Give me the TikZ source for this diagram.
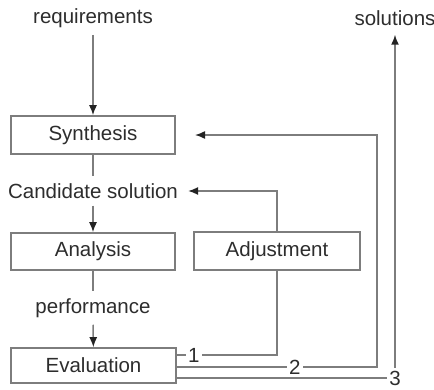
\documentclass[tikz,border=0pt]{standalone}
\usepackage{fontspec}
\setmainfont{Liberation Sans}
\usetikzlibrary{arrows.meta}
\definecolor{ln}{RGB}{125,125,125}
\definecolor{tip}{RGB}{35,35,35}
\definecolor{txt}{RGB}{45,45,45}
\begin{document}
\begin{tikzpicture}[x=1pt,y=-1pt,
  font=\fontsize{20.5}{24}\selectfont, text=txt,
  box/.style={draw=ln, line width=1.6pt, minimum width=164pt, minimum height=38pt, inner sep=0pt},
  lbl/.style={inner xsep=4pt, inner ysep=7pt},
  wire/.style={draw=ln, line width=1.5pt},
  arr/.style={wire, -{Latex[length=10pt,width=8pt,color=tip]}},
  num/.style={fill=white, inner sep=2.5pt}]
\useasboundingbox (0,0) rectangle (434,389);

% blocks and free labels
\node[lbl] (req) at (93,18) {requirements};
\node[box] (syn) at (93,135) {Synthesis};
\node[lbl, inner xsep=10pt] (cand) at (93,191) {Candidate solution};
\node[box, minimum height=37pt] (ana) at (93,251.5) {Analysis};
\node[box, minimum width=166pt] (adj) at (277,251) {Adjustment};
\node[lbl] (perf) at (93,308) {performance};
\node[box, minimum width=165pt, minimum height=35pt] (eva) at (93.5,365.5) {Evaluation};
\node[lbl, inner ysep=9pt] (sol) at (395,18) {solutions};
\coordinate (synin) at (195,135);

% main chain
\draw[arr] (req) -- (syn);
\draw[wire] (syn) -- (cand);
\draw[arr] (cand) -- (ana);
\draw[wire] (ana) -- (perf);
\draw[arr] (perf) -- (eva);

% loop 1: through the adjustment block back to the candidate solution
\draw[wire] (eva.east |- 0,355) -- node[num, pos=0.17] {1} (adj.south |- 0,355) -- (adj.south);
\draw[arr] (adj.north) -- (adj.north |- cand.east) -- (cand.east);

% loop 2: back to synthesis
\draw[arr] (eva.east |- 0,367) -- node[num, pos=0.59] {2} (377,367) -- (377,135) -- (synin);

% loop 3: out to the solutions
\draw[arr] (eva.east |- 0,378) -- (395,378) node[num] {3} -- (sol.south);
\end{tikzpicture}
\end{document}
